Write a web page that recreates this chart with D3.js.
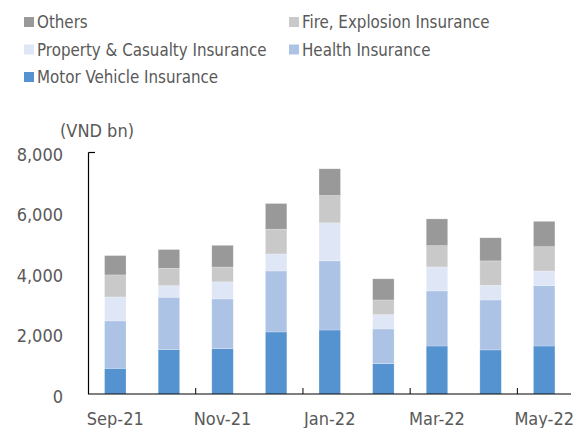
<!DOCTYPE html>
<html>
<head>
<meta charset="utf-8">
<script src="https://cdn.jsdelivr.net/npm/d3@7"></script>
<style>
  body { margin: 0; background: #fff; }
  svg text { font-family: Tahoma, "DejaVu Sans Condensed", "DejaVu Sans", sans-serif; fill: #595959; }
</style>
</head>
<body>
<svg id="chart" width="574" height="428"></svg>
<script>
// Datos (VND bn)
const months = ['Sep-21', 'Oct-21', 'Nov-21', 'Dec-21', 'Jan-22', 'Feb-22', 'Mar-22', 'Apr-22', 'May-22'];
const motor    = [850, 1470, 1500, 2055, 2120, 1005, 1590, 1460, 1590];
const health   = [1570, 1735, 1650, 2020, 2290, 1150, 1825, 1655, 2000];
const property = [795, 385, 565, 565, 1260, 475, 795, 485, 485];
const fire     = [730, 575, 490, 820, 905, 485, 705, 810, 805];
const others   = [640, 620, 720, 850, 885, 700, 885, 765, 840];
const yTicks = [0, 2000, 4000, 6000, 8000];
const labelEvery = 2;

const series = [
  { name: 'Motor Vehicle Insurance', values: motor, color: '#5592d0' },
  { name: 'Health Insurance', values: health, color: '#adc3e6' },
  { name: 'Property & Casualty Insurance', values: property, color: '#dfe7f6' },
  { name: 'Fire, Explosion Insurance', values: fire, color: '#c9c9c9' },
  { name: 'Others', values: others, color: '#999999' }
];

const svg = d3.select('#chart');
const axisFont = 18, legendFont = 16.8;

const x = d3.scaleBand().domain(months).range([88.5, 571]).paddingInner(0.6).paddingOuter(0.3);
const y = d3.scaleLinear().domain([0, 8000]).range([394, 152.5]);

// Barras apiladas
const rows = months.map((m, i) => {
  const r = { month: m };
  series.forEach(s => { r[s.name] = s.values[i]; });
  return r;
});
const stack = d3.stack().keys(series.map(s => s.name))(rows);

svg.append('g').selectAll('g')
  .data(stack)
  .enter().append('g')
  .attr('fill', (d, i) => series[i].color)
  .selectAll('rect')
  .data(d => d)
  .enter().append('rect')
  .attr('x', d => x(d.data.month))
  .attr('width', x.bandwidth())
  .attr('y', d => y(d[1]))
  .attr('height', d => y(d[0]) - y(d[1]))
  .attr('stroke', '#fff')
  .attr('stroke-opacity', 0.35)
  .attr('stroke-width', 0.6);

// Eje Y
svg.append('line')
  .attr('x1', 88.5).attr('x2', 88.5)
  .attr('y1', y(8000)).attr('y2', y(0))
  .attr('stroke', '#000').attr('stroke-width', 1.2);
svg.append('line')
  .attr('x1', 88.5).attr('x2', 95)
  .attr('y1', y(8000)).attr('y2', y(8000))
  .attr('stroke', '#000').attr('stroke-width', 1.2);

svg.append('g').selectAll('text')
  .data(yTicks)
  .enter().append('text')
  .attr('x', 63)
  .attr('y', d => y(d) + 8.5)
  .attr('text-anchor', 'end')
  .attr('font-size', axisFont)
  .text(d => d3.format(',')(d));

svg.append('text')
  .attr('x', 60).attr('y', 137)
  .attr('font-size', axisFont)
  .text('(VND bn)');

// Eje X
svg.append('line')
  .attr('x1', 88).attr('x2', 571)
  .attr('y1', y(0)).attr('y2', y(0))
  .attr('stroke', '#000').attr('stroke-width', 1.2);

const step = x.step();
const boundaries = months.map((m, i) => i)
  .filter(i => i > 0 && i % labelEvery === 0)
  .map(i => x(months[i]) + x.bandwidth() / 2 - step / 2);

svg.append('g').selectAll('line')
  .data(boundaries)
  .enter().append('line')
  .attr('x1', d => d).attr('x2', d => d)
  .attr('y1', y(0) - 6).attr('y2', y(0))
  .attr('stroke', '#000').attr('stroke-width', 1);

svg.append('g').selectAll('text')
  .data(months.filter((m, i) => i % labelEvery === 0))
  .enter().append('text')
  .attr('x', d => x(d) + x.bandwidth() / 2)
  .attr('y', 425)
  .attr('text-anchor', 'middle')
  .attr('font-size', axisFont)
  .text(d => d);

// Leyenda
const legendItems = [
  { s: series[4], col: 0, row: 0 },
  { s: series[3], col: 1, row: 0 },
  { s: series[2], col: 0, row: 1 },
  { s: series[1], col: 1, row: 1 },
  { s: series[0], col: 0, row: 2 }
];
const legendX = [24, 289], legendY = [22, 49.5, 77];

const lg = svg.append('g').selectAll('g')
  .data(legendItems)
  .enter().append('g')
  .attr('transform', d => `translate(${legendX[d.col]},${legendY[d.row]})`);
lg.append('rect')
  .attr('x', 0).attr('y', -5).attr('width', 10).attr('height', 10)
  .attr('fill', d => d.s.color);
lg.append('text')
  .attr('x', 13).attr('y', 6)
  .attr('font-size', legendFont)
  .text(d => d.s.name);
</script>
</body>
</html>
